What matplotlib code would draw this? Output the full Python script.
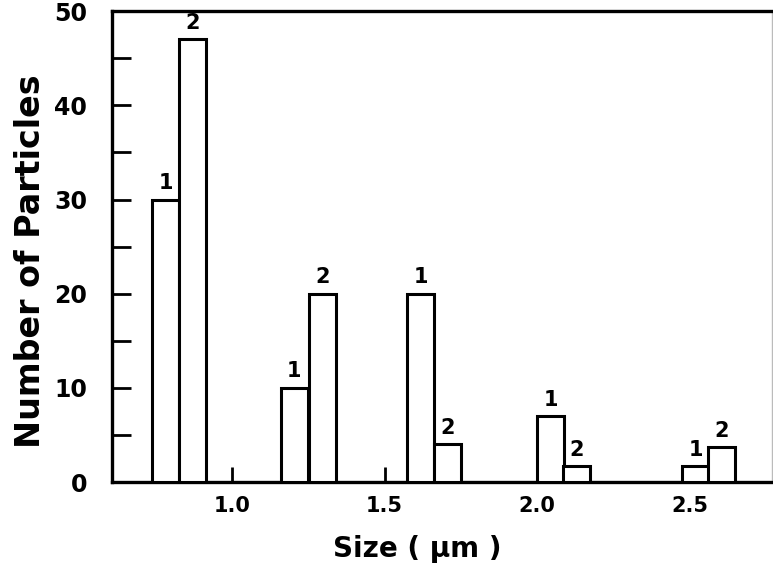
import matplotlib
matplotlib.use("Agg")
import matplotlib.pyplot as plt
from matplotlib.ticker import MultipleLocator

# bar left edges (series 1), series 2 sits right next to it
left_1 = [0.738, 1.160, 1.574, 2.000, 2.475]
left_2 = [0.826, 1.252, 1.662, 2.085, 2.561]
counts_1 = [30, 10, 20, 7, 1.7]
counts_2 = [47, 20, 4, 1.7, 3.7]
series_labels = ["1", "2"]
xtick_pos = [1.0, 1.5, 2.0, 2.5]
xtick_labels = ["1.0", "1.5", "2.0", "2.5"]
bar_w = 0.088

plt.rcParams['font.family'] = ['DejaVu Sans']
fig = plt.figure(figsize=(7.73, 5.74), dpi=100)
ax = fig.add_axes([0.145, 0.160, 0.854, 0.8206])

lw = 2.2
ax.bar(left_1, counts_1, width=bar_w, align='edge', facecolor='white',
       edgecolor='black', linewidth=lw, zorder=3)
ax.bar(left_2, counts_2, width=bar_w, align='edge', facecolor='white',
       edgecolor='black', linewidth=lw, zorder=3)

for x, h in zip(left_1, counts_1):
    ax.text(x + bar_w / 2, h + 0.7, series_labels[0], ha='center', va='bottom',
            fontsize=15, fontweight='bold')
for x, h in zip(left_2, counts_2):
    ax.text(x + bar_w / 2, h + 0.7, series_labels[1], ha='center', va='bottom',
            fontsize=15, fontweight='bold')

ax.set_xlim(0.607, 2.77)
ax.set_ylim(0, 50)
ax.set_xticks(xtick_pos)
ax.set_xticklabels(xtick_labels)
ax.yaxis.set_major_locator(MultipleLocator(10))
ax.yaxis.set_minor_locator(MultipleLocator(5))

ax.tick_params(axis='y', which='both', direction='in', length=14, width=2,
               labelsize=17, pad=18)
ax.tick_params(axis='x', which='major', direction='in', length=11, width=2,
               labelsize=15, pad=10)
for lab in ax.get_yticklabels() + ax.get_xticklabels():
    lab.set_fontweight('bold')

for side in ['left', 'bottom', 'top']:
    ax.spines[side].set_linewidth(2.4)
ax.spines['right'].set_linewidth(1.0)
ax.spines['right'].set_color('#bbbbbb')

ax.set_ylabel("Number of Particles", fontsize=24, fontweight='bold')
ax.yaxis.set_label_coords(-0.098, 0.47)
ax.set_xlabel("Size ( μm )", fontsize=20, fontweight='bold')
ax.xaxis.set_label_coords(0.462, -0.113)

fig.savefig("out.png", dpi=100)
